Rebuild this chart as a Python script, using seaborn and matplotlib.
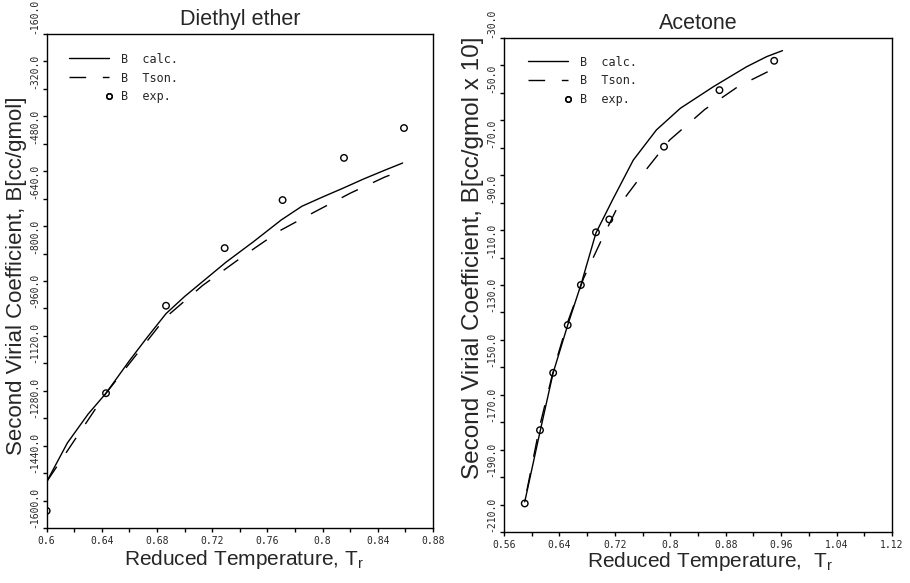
import matplotlib
matplotlib.use('Agg')
import matplotlib.pyplot as plt
import seaborn as sns
from matplotlib.lines import Line2D
from matplotlib.legend_handler import HandlerLine2D
from matplotlib.ticker import MultipleLocator, FixedLocator, FormatStrFormatter

# Diethyl ether data
ether_exp_t = [0.600, 0.643, 0.6865, 0.729, 0.771, 0.8155, 0.859]
ether_exp_b = [-1550, -1207, -952, -784, -644, -521, -434]
ether_calc_t = [0.600, 0.615, 0.630, 0.643, 0.660, 0.6725, 0.6865, 0.700,
                0.730, 0.750, 0.770, 0.785, 0.800, 0.815, 0.830, 0.845, 0.858]
ether_calc_b = [-1465, -1352, -1268, -1207, -1112, -1046, -975, -925,
                -825, -765, -702, -662, -635, -609, -582, -557, -536]
ether_tson_t = [0.600, 0.643, 0.6865, 0.713, 0.745, 0.770, 0.794, 0.820, 0.845, 0.858]
ether_tson_b = [-1465, -1207, -985, -893, -800, -731, -679, -624, -577, -557]

# Acetone data (B in cc/gmol x 10)
acet_exp_t = [0.590, 0.612, 0.631, 0.652, 0.671, 0.6928, 0.712, 0.791, 0.871, 0.950]
acet_exp_b = [-199.6, -172.9, -152.0, -134.6, -120.0, -100.8, -96.1, -69.6, -49.0, -38.3]
acet_calc_t = [0.590, 0.612, 0.631, 0.652, 0.671, 0.6928, 0.7177, 0.7466, 0.780,
               0.8146, 0.8625, 0.910, 0.939, 0.962]
acet_calc_b = [-199, -173.5, -152, -134.6, -120, -101, -88.5, -74.5, -63.5,
               -55.6, -47.7, -40.5, -36.8, -34.6]
acet_tson_t = [0.593, 0.612, 0.632, 0.652, 0.675, 0.700, 0.723, 0.761, 0.799,
               0.850, 0.899, 0.951]
acet_tson_b = [-195, -171, -150.5, -133.5, -117.5, -104, -92.1, -79.3, -67.2,
               -56.0, -47.5, -41.0]

# tick values
ether_xticks = [0.6, 0.64, 0.68, 0.72, 0.76, 0.8, 0.84, 0.88]
ether_yticks = [-1600, -1440, -1280, -1120, -960, -800, -640, -480, -320, -160]
acet_xticks = [0.56, 0.64, 0.72, 0.8, 0.88, 0.96, 1.04, 1.12]
acet_yticks = [-210, -190, -170, -150, -130, -110, -90, -70, -50, -30]


class MarkerRight(HandlerLine2D):
    # single legend marker at the right end of the handle
    def get_xdata(self, legend, xdescent, ydescent, width, height, fontsize):
        x = -xdescent + width
        return [x, x], [x, x]


sns.set_style('ticks')
plt.rcParams['font.family'] = ['Liberation Sans', 'DejaVu Sans']
plt.rcParams['mathtext.fontset'] = 'custom'
plt.rcParams['mathtext.rm'] = 'Liberation Sans'

fig = plt.figure(figsize=(9.1, 5.83), dpi=100)
ax1 = fig.add_axes([0.0513, 0.0943, 0.4245, 0.8473])
ax2 = fig.add_axes([0.5538, 0.0875, 0.4264, 0.8473])

dash = (0, (13, 12))


def draw(ax, calc_t, calc_b, tson_t, tson_b, exp_t, exp_b):
    sns.lineplot(x=calc_t, y=calc_b, color='black', lw=1, sort=False,
                 estimator=None, ax=ax)
    sns.lineplot(x=tson_t, y=tson_b, color='black', lw=1, sort=False,
                 estimator=None, linestyle=dash, ax=ax)
    sns.scatterplot(x=exp_t, y=exp_b, marker='o', s=22, facecolor='none',
                    edgecolor='black', linewidth=1, ax=ax, zorder=3)


draw(ax1, ether_calc_t, ether_calc_b, ether_tson_t, ether_tson_b,
     ether_exp_t, ether_exp_b)
draw(ax2, acet_calc_t, acet_calc_b, acet_tson_t, acet_tson_b,
     acet_exp_t, acet_exp_b)

ax1.set_xlim(0.6, 0.88)
ax1.set_ylim(-1600, -160)
ax1.xaxis.set_major_locator(FixedLocator(ether_xticks))
ax1.xaxis.set_minor_locator(MultipleLocator(0.02))
ax1.yaxis.set_major_locator(FixedLocator(ether_yticks))
ax1.yaxis.set_minor_locator(MultipleLocator(80))

ax2.set_xlim(0.56, 1.12)
ax2.set_ylim(-210, -30)
ax2.xaxis.set_major_locator(FixedLocator(acet_xticks))
ax2.xaxis.set_minor_locator(MultipleLocator(0.04))
ax2.yaxis.set_major_locator(FixedLocator(acet_yticks))
ax2.yaxis.set_minor_locator(MultipleLocator(10))

titles = ['Diethyl ether', 'Acetone']
ylabels = ['Second Virial Coefficient, B[cc/gmol]',
           'Second Virial Coefficient, B[cc/gmol x 10]']
ylab_sizes = [16, 17.5]
ylab_pos = [(-0.051, 0.51), (-0.052, 0.555)]
xlabels = ['Reduced Temperature, T$_{\\rm r}$',
           'Reduced Temperature,  T$_{\\rm r}$']
xlab_pos = [(0.51, -0.04), (0.53, -0.036)]
leg_pos = [(0.045, 0.972), (0.049, 0.974)]

for i, ax in enumerate([ax1, ax2]):
    ax.xaxis.set_major_formatter(FormatStrFormatter('%g'))
    ax.yaxis.set_major_formatter(FormatStrFormatter('%.1f'))
    ax.tick_params(which='both', direction='out', length=3, width=1,
                   labelsize=7, color='black')
    ax.tick_params(axis='x', pad=3)
    ax.tick_params(axis='y', pad=2.5)
    for lbl in ax.get_xticklabels() + ax.get_yticklabels():
        lbl.set_family('DejaVu Sans Mono')
    for s in ax.spines.values():
        s.set_linewidth(1)
        s.set_color('black')
    ax.set_title(titles[i], fontsize=15.5, pad=6.5)
    ax.set_ylabel(ylabels[i], fontsize=ylab_sizes[i])
    ax.set_xlabel(xlabels[i], fontsize=15)
    ax.yaxis.set_label_coords(*ylab_pos[i])
    ax.xaxis.set_label_coords(*xlab_pos[i])
    for lbl in ax.get_yticklabels():
        lbl.set_rotation(90)
        lbl.set_rotation_mode('anchor')
        lbl.set_ha('left')
        lbl.set_va('bottom')

    h_calc = Line2D([], [], color='black', lw=1)
    h_tson = Line2D([], [], color='black', lw=1, linestyle=(0, (12, 12)))
    h_exp = Line2D([], [], linestyle='none', marker='o', ms=4,
                   mfc='none', mec='black', mew=1)
    leg = ax.legend([h_calc, h_tson, h_exp], ['B  calc.', 'B  Tson.', 'B  exp.'],
                    loc='upper left', bbox_to_anchor=leg_pos[i], borderaxespad=0,
                    frameon=False, prop={'family': 'DejaVu Sans Mono', 'size': 8.5},
                    handlelength=3.4, handletextpad=1.0, labelspacing=0.5,
                    handler_map={h_exp: MarkerRight(numpoints=2)})

fig.savefig('out.png', dpi=100)
